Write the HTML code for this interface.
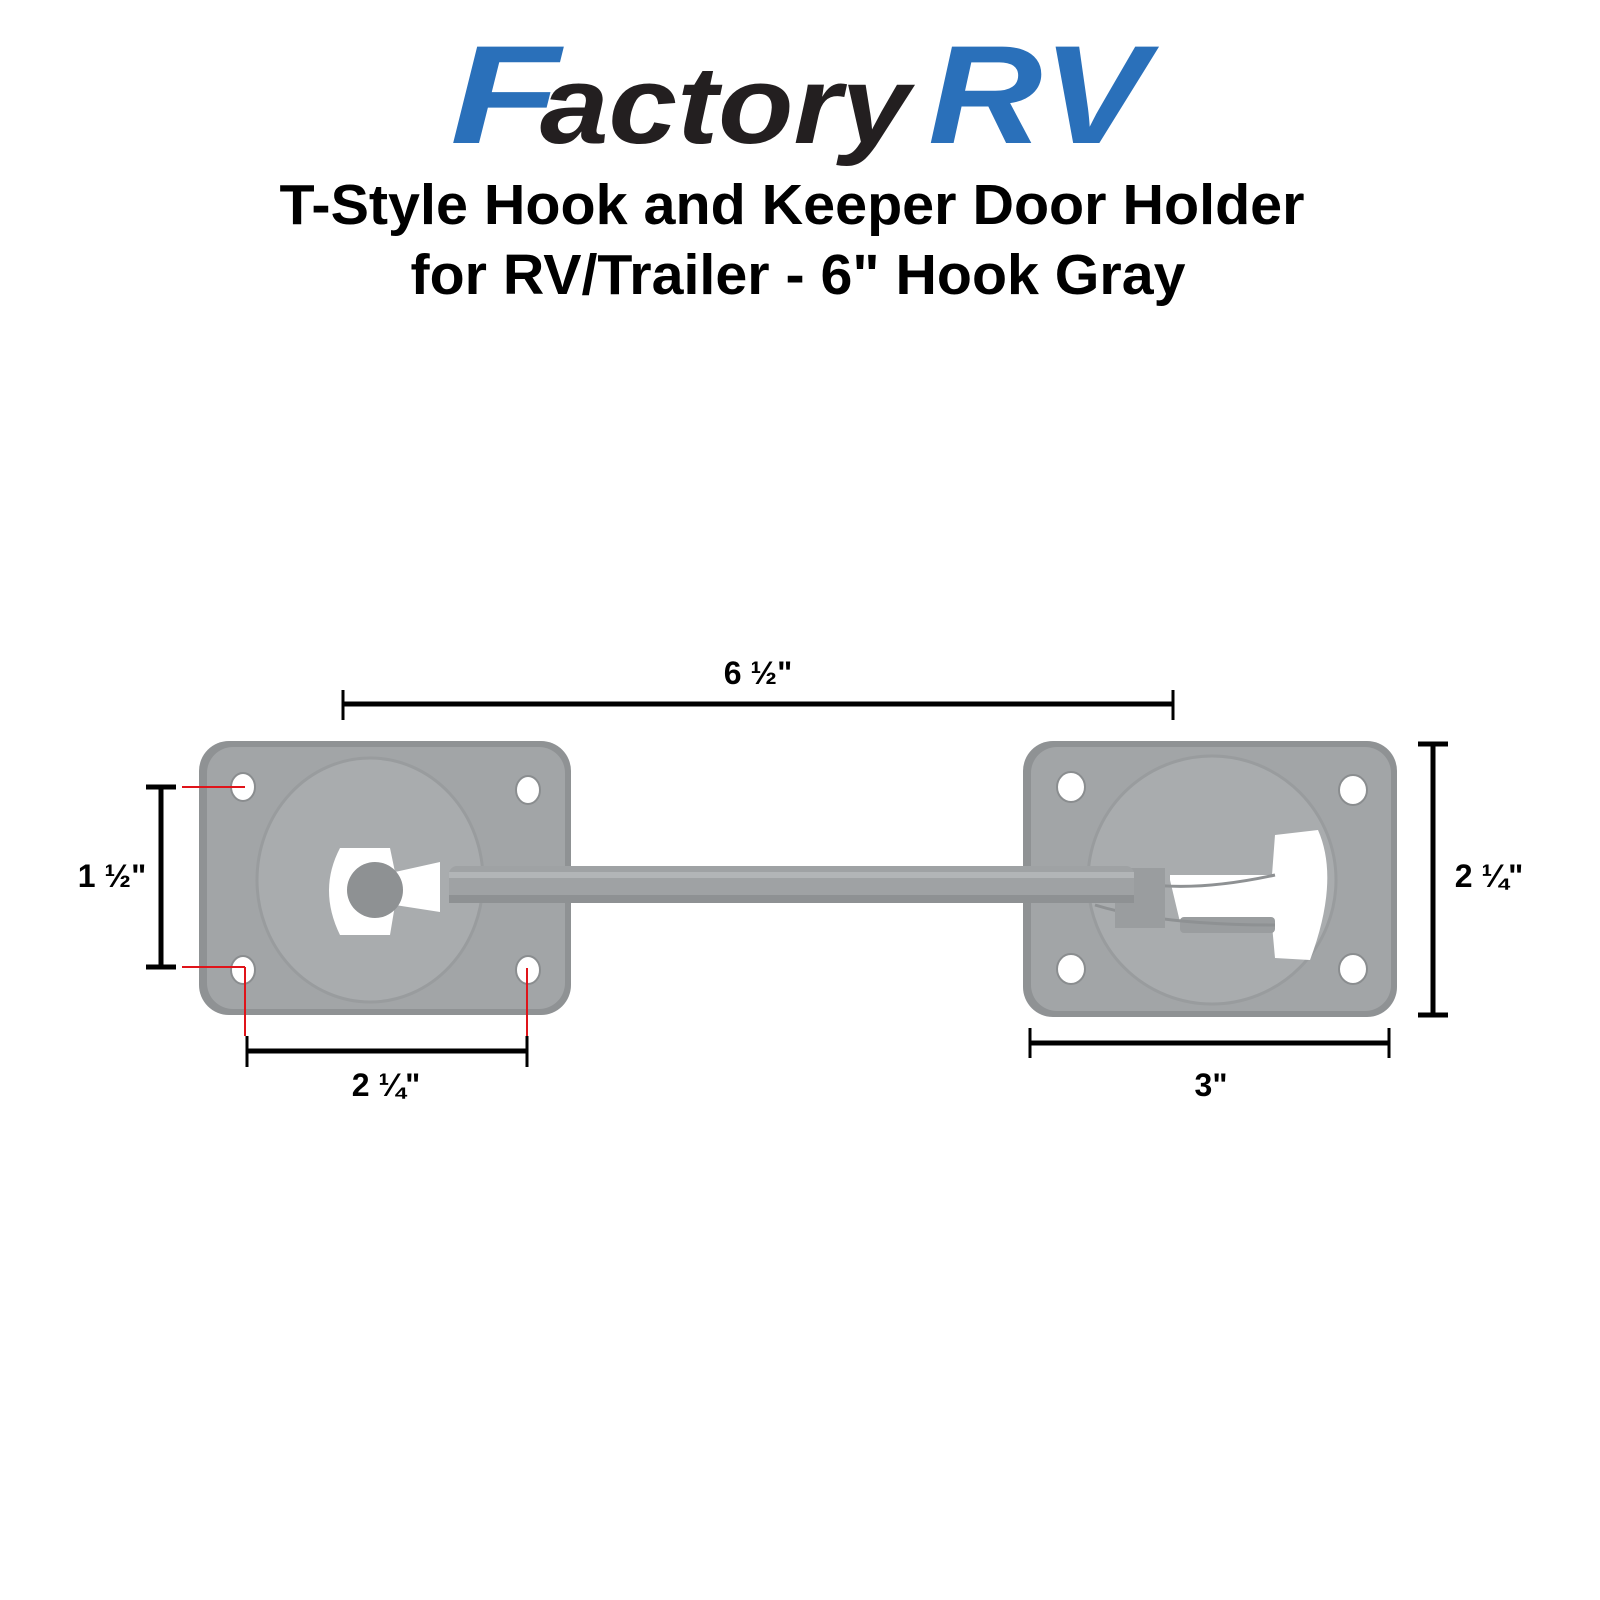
<!DOCTYPE html>
<html><head><style>
html,body{margin:0;padding:0;background:#fff;width:1600px;height:1600px;overflow:hidden}
svg{display:block}
</style></head><body>
<svg width="1600" height="1600" viewBox="0 0 1600 1600" xmlns="http://www.w3.org/2000/svg">
<!-- Logo -->
<g font-family="Liberation Sans, sans-serif" font-weight="bold" font-style="italic">
  <text x="450" y="143" font-size="140" fill="#2a70ba" textLength="110" lengthAdjust="spacingAndGlyphs">F</text>
  <text x="540" y="143" font-size="110" fill="#231f20" textLength="370" lengthAdjust="spacingAndGlyphs">actory</text>
  <text x="928" y="143" font-size="140" fill="#2a70ba" textLength="220" lengthAdjust="spacingAndGlyphs">RV</text>
</g>
<g font-family="Liberation Sans, sans-serif" font-weight="bold" font-size="57" fill="#000" text-anchor="middle">
  <text x="792" y="224" textLength="1025" lengthAdjust="spacingAndGlyphs">T-Style Hook and Keeper Door Holder</text>
  <text x="798" y="294" textLength="775" lengthAdjust="spacingAndGlyphs">for RV/Trailer - 6" Hook Gray</text>
</g>

<!-- Plates -->
<rect x="199" y="741" width="372" height="274" rx="30" fill="#8f9294"/>
<rect x="207" y="747" width="358" height="262" rx="26" fill="#a2a5a7"/>
<rect x="1023" y="741" width="374" height="276" rx="30" fill="#8f9294"/>
<rect x="1031" y="747" width="360" height="264" rx="26" fill="#a2a5a7"/>
<!-- holes -->
<g fill="#fff" stroke="#8a8d8f" stroke-width="2">
  <ellipse cx="243" cy="787" rx="12" ry="14"/><ellipse cx="528" cy="790" rx="12" ry="14"/>
  <ellipse cx="243" cy="970" rx="12" ry="14"/><ellipse cx="528" cy="970" rx="12" ry="14"/>
  <ellipse cx="1071" cy="787" rx="14" ry="15"/><ellipse cx="1353" cy="790" rx="14" ry="15"/>
  <ellipse cx="1071" cy="969" rx="14" ry="15"/><ellipse cx="1353" cy="969" rx="14" ry="15"/>
</g>
<!-- Left dome -->
<ellipse cx="370" cy="880" rx="113" ry="122" fill="#a9acae"/>
<ellipse cx="370" cy="880" rx="113" ry="122" fill="none" stroke="#999c9e" stroke-width="3"/>
<path d="M340 848 L390 848 L395 872 L440 862 L440 912 L395 905 L390 935 L340 935 Q318 890 340 848Z" fill="#fff"/>
<circle cx="375" cy="890" r="28" fill="#8e9193"/>
<!-- Right dome -->
<circle cx="1212" cy="880" r="124" fill="#a9acae"/>
<circle cx="1212" cy="880" r="124" fill="none" stroke="#999c9e" stroke-width="3"/>
<path d="M1170 880 L1170 875 L1272 875 L1275 835 L1318 830 Q1340 880 1310 960 L1275 958 L1272 925 L1180 922Z" fill="#fff"/>
<rect x="1180" y="917" width="95" height="16" rx="4" fill="#9a9d9f"/>
<path d="M1095 870 Q1160 900 1275 875" fill="none" stroke="#8e9193" stroke-width="3"/>
<path d="M1095 905 Q1160 925 1275 925" fill="none" stroke="#8e9193" stroke-width="3"/>
<rect x="1115" y="868" width="50" height="60" fill="#9a9d9f"/>
<!-- Rod -->
<rect x="449" y="866" width="685" height="37" rx="8" fill="#9fa2a4"/>
<rect x="449" y="872" width="685" height="6" fill="#b2b5b7"/>
<rect x="449" y="895" width="685" height="8" fill="#8e9193"/>

<!-- Dimension lines -->
<g stroke="#000" stroke-width="5" fill="none">
  <line x1="343" y1="704" x2="1173" y2="704"/>
  <line x1="343" y1="690" x2="343" y2="720" stroke-width="3"/>
  <line x1="1173" y1="690" x2="1173" y2="720" stroke-width="3"/>
  <line x1="161" y1="787" x2="161" y2="967"/>
  <line x1="146" y1="787" x2="176" y2="787"/>
  <line x1="146" y1="967" x2="176" y2="967"/>
  <line x1="247" y1="1051" x2="527" y2="1051"/>
  <line x1="247" y1="1036" x2="247" y2="1067" stroke-width="3"/>
  <line x1="527" y1="1036" x2="527" y2="1067" stroke-width="3"/>
  <line x1="1030" y1="1043" x2="1389" y2="1043"/>
  <line x1="1030" y1="1028" x2="1030" y2="1058" stroke-width="3"/>
  <line x1="1389" y1="1028" x2="1389" y2="1058" stroke-width="3"/>
  <line x1="1433" y1="744" x2="1433" y2="1015"/>
  <line x1="1418" y1="744" x2="1448" y2="744"/>
  <line x1="1418" y1="1015" x2="1448" y2="1015"/>
</g>
<g stroke="#e0141a" stroke-width="2" fill="none">
  <line x1="182" y1="787" x2="245" y2="787"/>
  <line x1="182" y1="967" x2="245" y2="967"/>
  <line x1="245" y1="967" x2="245" y2="1036"/>
  <line x1="527" y1="968" x2="527" y2="1036"/>
</g>
<g font-family="Liberation Sans Narrow, Liberation Sans, sans-serif" font-weight="bold" font-size="32" fill="#000" text-anchor="middle">
  <text x="758" y="684">6 ½"</text>
  <text x="112" y="887">1 ½"</text>
  <text x="386" y="1096">2 ¼"</text>
  <text x="1211" y="1096">3"</text>
  <text x="1489" y="887">2 ¼"</text>
</g>
</svg>
</body></html>
